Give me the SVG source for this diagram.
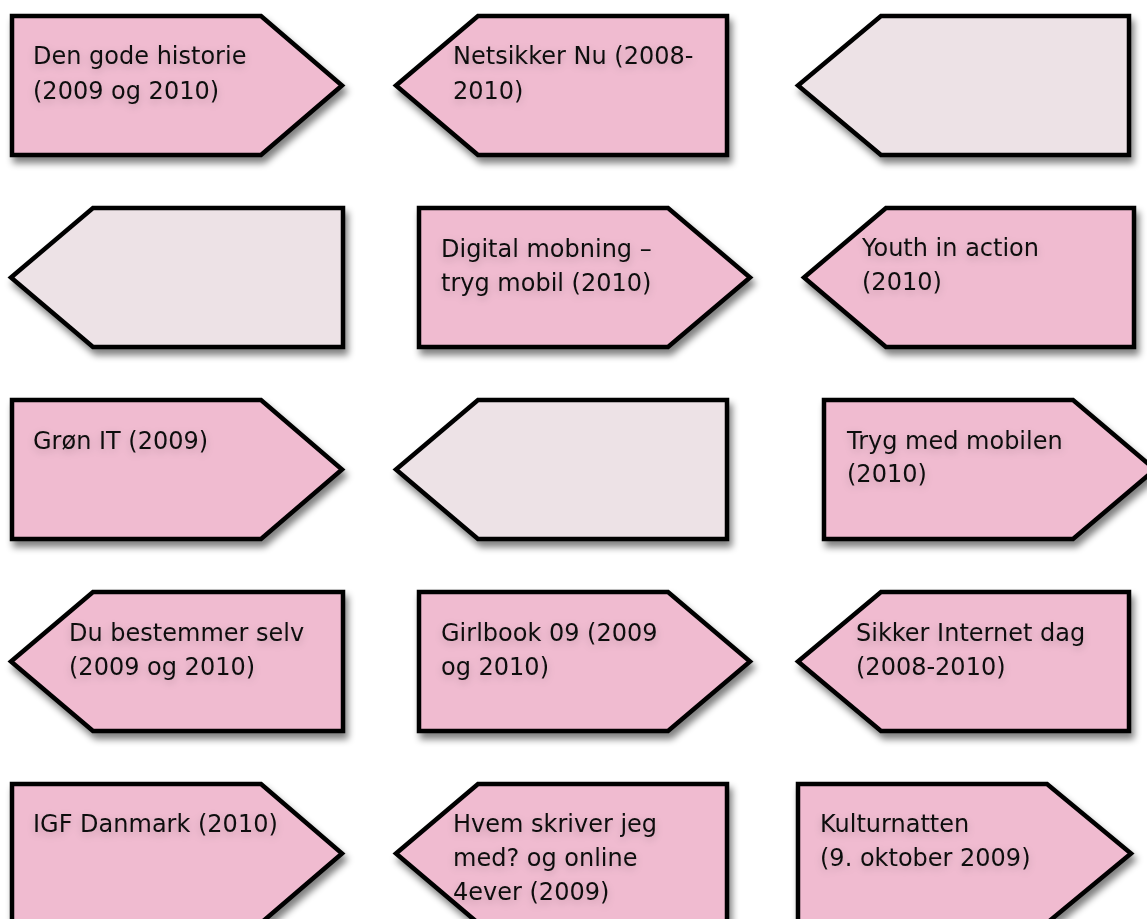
<svg xmlns="http://www.w3.org/2000/svg" width="1147" height="919" viewBox="0 0 1147 919">
<style>
.p{fill:#F0BBD0;stroke:#000;stroke-width:4.5;stroke-linejoin:miter;filter:url(#sh)}
.l{fill:#EDE2E6;stroke:#000;stroke-width:4.5;stroke-linejoin:miter;filter:url(#sh)}
.t{font-family:"DejaVu Sans",Verdana,sans-serif;font-size:24px;fill:#111;filter:url(#tsh)}
</style>
<defs>
<filter id="sh" x="-10%" y="-10%" width="125%" height="130%">
<feGaussianBlur in="SourceAlpha" stdDeviation="3.5"/>
<feOffset dx="3" dy="6" result="b"/>
<feComponentTransfer in="b" result="c"><feFuncA type="linear" slope="0.5"/></feComponentTransfer>
<feMerge><feMergeNode in="c"/><feMergeNode in="SourceGraphic"/></feMerge>
</filter>
<filter id="tsh" x="-10%" y="-40%" width="120%" height="200%">
<feGaussianBlur in="SourceAlpha" stdDeviation="4"/>
<feOffset dx="0" dy="3" result="b"/>
<feComponentTransfer in="b" result="c"><feFuncA type="linear" slope="0.2"/></feComponentTransfer>
<feMerge><feMergeNode in="c"/><feMergeNode in="SourceGraphic"/></feMerge>
</filter>
</defs>
<rect width="1147" height="919" fill="#fff"/>
<g id="connectors"/>
<g id="n1"><polygon class="p" points="12,16 261,16 342,85.5 261,155 12,155"/><text class="t" x="33" y="64">Den gode historie</text><text class="t" x="33" y="99">(2009 og 2010)</text></g>
<g id="n2"><polygon class="p" points="396,85.5 478,16 727,16 727,155 478,155"/><text class="t" x="453" y="64">Netsikker Nu (2008-</text><text class="t" x="453" y="99">2010)</text></g>
<g id="n3"><polygon class="l" points="798,85.5 881,16 1129,16 1129,155 881,155"/></g>
<g id="n4"><polygon class="l" points="11,277.5 93,208 343,208 343,347 93,347"/></g>
<g id="n5"><polygon class="p" points="419,208 668,208 750,277.5 668,347 419,347"/><text class="t" x="441" y="257">Digital mobning –</text><text class="t" x="441" y="291">tryg mobil (2010)</text></g>
<g id="n6"><polygon class="p" points="804,277.5 886,208 1134,208 1134,347 886,347"/><text class="t" x="862" y="256">Youth in action</text><text class="t" x="862" y="290">(2010)</text></g>
<g id="n7"><polygon class="p" points="12,400 261,400 342,469.5 261,539 12,539"/><text class="t" x="33" y="449">Grøn IT (2009)</text></g>
<g id="n8"><polygon class="l" points="396,469.5 478,400 727,400 727,539 478,539"/></g>
<g id="n9"><polygon class="p" points="824,400 1073,400 1155,469.5 1073,539 824,539"/><text class="t" x="847" y="449">Tryg med mobilen</text><text class="t" x="847" y="482">(2010)</text></g>
<g id="n10"><polygon class="p" points="11,661.5 93,592 343,592 343,731 93,731"/><text class="t" x="69" y="641">Du bestemmer selv</text><text class="t" x="69" y="675">(2009 og 2010)</text></g>
<g id="n11"><polygon class="p" points="419,592 668,592 750,661.5 668,731 419,731"/><text class="t" x="441" y="641">Girlbook 09 (2009</text><text class="t" x="441" y="675">og 2010)</text></g>
<g id="n12"><polygon class="p" points="798,661.5 881,592 1129,592 1129,731 881,731"/><text class="t" x="856" y="641">Sikker Internet dag</text><text class="t" x="856" y="675">(2008-2010)</text></g>
<g id="n13"><polygon class="p" points="12,784 261,784 342,853.5 261,923 12,923"/><text class="t" x="33" y="832">IGF Danmark (2010)</text></g>
<g id="n14"><polygon class="p" points="396,853.5 478,784 727,784 727,923 478,923"/><text class="t" x="453" y="832">Hvem skriver jeg</text><text class="t" x="453" y="866">med? og online</text><text class="t" x="453" y="900">4ever (2009)</text></g>
<g id="n15"><polygon class="p" points="798,784 1047,784 1131,853.5 1047,923 798,923"/><text class="t" x="820" y="832">Kulturnatten</text><text class="t" x="820" y="866">(9. oktober 2009)</text></g>
</svg>
